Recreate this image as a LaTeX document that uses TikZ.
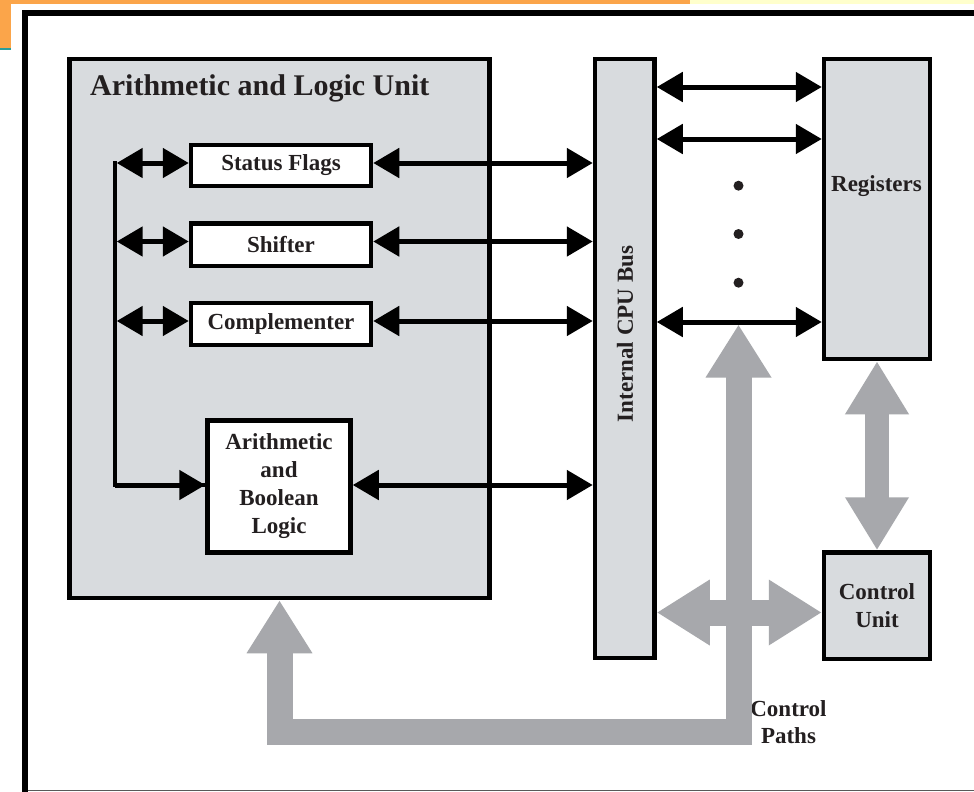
\documentclass[tikz,border=0pt]{standalone}
\usepackage{fontspec}
\setmainfont{Liberation Serif}
\usetikzlibrary{arrows.meta,calc}
\definecolor{boxfill}{HTML}{D8DBDE}
\definecolor{barfill}{HTML}{A7A8AC}
\definecolor{topbar}{HTML}{FBA54A}
\definecolor{topyellow}{HTML}{FFFFCC}
\definecolor{topteal}{HTML}{2A9D9A}
\definecolor{inkc}{HTML}{231F20}
\begin{document}
\begin{tikzpicture}[x=1pt,y=-1pt,
  box/.style={draw=black, line width=4.5pt, fill=boxfill, inner sep=0pt, text=inkc,
    font=\fontsize{23}{28}\selectfont\bfseries, align=center},
  wbox/.style={box, fill=white},
  lbl/.style={inner sep=0pt, text=inkc, font=\fontsize{23}{28}\selectfont\bfseries, align=center},
  blk/.style={line width=5pt, black, {Triangle[length=26pt,width=29pt]}-{Triangle[length=26pt,width=29pt]}},
  blkr/.style={line width=5pt, black, -{Triangle[length=26pt,width=29pt]}},
  gbar/.style={line width=26pt, barfill, line join=miter, {Triangle[length=53pt,width=62pt]}-{Triangle[length=53pt,width=62pt]}},
  gbarr/.style={line width=24pt, barfill, {Triangle[length=53pt,width=60pt]}-{Triangle[length=53pt,width=60pt]}},
  dotc/.style={circle, fill=inkc, inner sep=0pt, minimum size=10pt}
]
\useasboundingbox (0,0) rectangle (974,792);
\fill[white] (0,0) rectangle (974,792);
% top decoration
\fill[topbar] (0,0) rectangle (690,4);
\fill[topbar] (0,0) rectangle (11,48);
\fill[topteal] (0,48) rectangle (11,50);
\fill[topyellow] (690,0) rectangle (974,4);
% outer frame
\draw[line width=5.5pt, black] (25,800) -- (25,13) -- (980,13);
\draw[line width=1.2pt, black!65] (28,790.5) -- (974,790.5);

% boxes
\node[box, minimum width=420pt, minimum height=539pt] (alu) at (279.5,328.5) {};
\node[lbl, anchor=base west, font=\fontsize{30}{34}\selectfont\bfseries] (alut) at (90,95) {Arithmetic and Logic Unit};
\node[wbox, minimum width=180pt, minimum height=41pt] (sf) at (281,165.5) {Status Flags};
\node[wbox, minimum width=180pt, minimum height=42.5pt] (sh) at (281,244.75) {Shifter};
\node[wbox, minimum width=180pt, minimum height=42pt] (cm) at (281,324) {Complementer};
\node[wbox, minimum width=143pt, minimum height=132pt] (alb) at (279,486.5) {Arithmetic\\and\\Boolean\\Logic};
\node[box, minimum width=59.5pt, minimum height=599pt] (bus) at (624.75,358.5) {};
\node[lbl, rotate=90] (bust) at (625,334) {Internal CPU Bus};
\node[box, minimum width=106pt, minimum height=300pt] (reg) at (877,209) {};
\node[lbl] (regt) at (876.5,186) {Registers};
\node[box, minimum width=106pt, minimum height=106.5pt] (cu) at (877,605.75) {Control\\Unit};
\node[lbl, font=\fontsize{23}{27}\selectfont\bfseries] (cpt) at (788.5,722) {Control\\Paths};

% spine on the left
\coordinate (spt) at (114.7,161);
\coordinate (spb) at (114.7,485);
\coordinate (s1) at (116.7,163);
\coordinate (s2) at (116.7,241.5);
\coordinate (s3) at (116.7,321);
\draw[line width=4pt, black] (spt) -- (spb) -- (alb.west |- spb);
\draw[blkr] (spb) -- (alb.west |- spb);
\draw[blk] (s1) -- (sf.west |- s1);
\draw[blk] (s2) -- (sh.west |- s2);
\draw[blk] (s3) -- (cm.west |- s3);

% to the bus
\draw[blk] (sf.east |- s1) -- (bus.west |- s1);
\draw[blk] (sh.east |- s2) -- (bus.west |- s2);
\draw[blk] (cm.east |- s3) -- (bus.west |- s3);
\draw[blk] (alb.east |- spb) -- (bus.west |- spb);

% bus to registers
\coordinate (r1) at (700,87);
\coordinate (r2) at (700,139);
\coordinate (r3) at (700,322);
\draw[blk] (bus.east |- r1) -- (reg.west |- r1);
\draw[blk] (bus.east |- r2) -- (reg.west |- r2);
\draw[blk] (bus.east |- r3) -- (reg.west |- r3);
\node[dotc] (d1) at (738.5,185.7) {};
\node[dotc] (d2) at (738.5,234) {};
\node[dotc] (d3) at (738.5,282.7) {};

% gray control paths
\coordinate (ctop) at (738.5,324.5);
\coordinate (ccorner) at (738.5,732);
\coordinate (lcorner) at (279.5,732);
\draw[gbar] (ctop) -- (ccorner) -- (lcorner) -- (alu.south);
\coordinate (hy) at (700,612.5);
\draw[gbar] (bus.east |- hy) -- (cu.west |- hy);
\draw[gbarr] (reg.south) -- (cu.north);
\end{tikzpicture}
\end{document}
